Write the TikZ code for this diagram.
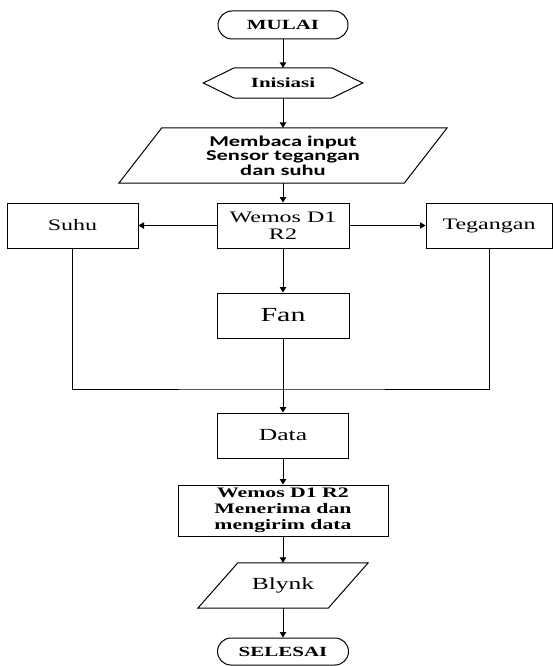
\documentclass[tikz,border=0pt]{standalone}
\usepackage{fontspec}
\setmainfont{Liberation Serif}[FakeStretch=1.5]
\newfontfamily\calib{Carlito}[FakeStretch=1.5]
\usetikzlibrary{arrows.meta,shapes.misc,calc}
\begin{document}
\begin{tikzpicture}[x=1pt,y=-1pt,
  shp/.style={line width=1pt},
  box/.style={draw, shp, minimum width=132pt, minimum height=45pt, inner sep=0pt, align=center, font=\fontsize{16}{16.5}\selectfont},
  plain/.style={inner sep=0pt, align=center},
  term/.style={draw, shp, rounded rectangle, minimum width=130pt, minimum height=28pt, inner sep=0pt, font=\fontsize{14}{15}\selectfont\bfseries},
  conn/.style={line width=1pt, -{Triangle[length=5.5pt,width=6.5pt]}},
  line/.style={line width=1pt}]
\useasboundingbox (0,0) rectangle (553,666);
\fill[white] (0,0) rectangle (553,666);

\node[term] (mulai) at (283,25) {MULAI};

\node[plain, minimum width=97pt, minimum height=30pt, font=\fontsize{14}{15}\selectfont\bfseries] (ini) at (283,83) {Inisiasi};
\draw[shp] ($(ini.west)+(-31,0)$) -- (ini.north west) -- (ini.north east) -- ($(ini.east)+(31,0)$) -- (ini.south east) -- (ini.south west) -- cycle;

\node[plain, minimum width=285pt, minimum height=55pt, font=\calib\fontsize{15}{14.5}\selectfont\bfseries] (baca) at (283,155.5) {Membaca input\\Sensor tegangan\\dan suhu};
\draw[shp] ($(baca.south west)+(-21.5,0)$) -- ($(baca.north west)+(21.5,0)$) -- ($(baca.north east)+(21.5,0)$) -- ($(baca.south east)+(-21.5,0)$) -- cycle;

\node[box] (w1) at (283,225.5) {Wemos D1\\R2};
\node[box, minimum width=131pt] (suhu) at (72.5,225.5) {Suhu};
\node[box, minimum width=126pt] (teg) at (489,225.5) {Tegangan};
\node[box, font=\fontsize{20}{21}\selectfont] (fan) at (283,315.5) {Fan};
\coordinate (j) at (283,389);
\node[box, minimum width=131pt, font=\fontsize{17}{18}\selectfont] (data) at (283,435.5) {Data};
\node[box, minimum width=210pt, minimum height=51pt, font=\fontsize{14.5}{16}\selectfont\bfseries] (w2) at (283,510.5) {Wemos D1 R2\\Menerima dan\\mengirim data};

\node[plain, minimum width=130pt, minimum height=45pt, font=\fontsize{17}{18}\selectfont] (blynk) at (283,585.5) {Blynk};
\draw[shp] ($(blynk.south west)+(-20,0)$) -- ($(blynk.north west)+(20,0)$) -- ($(blynk.north east)+(20,0)$) -- ($(blynk.south east)+(-20,0)$) -- cycle;

\node[term, minimum width=131pt, minimum height=27pt] (selesai) at (283,651.5) {SELESAI};

\draw[conn] (mulai.south) -- (ini.north);
\draw[conn] (ini.south) -- (baca.north);
\draw[conn] (baca.south) -- (w1.north);
\draw[conn] (w1.west) -- (suhu.east);
\draw[conn] (w1.east) -- (teg.west);
\draw[conn] (w1.south) -- (fan.north);
\draw[line] (suhu.south) |- (j) -| (teg.south);
\draw[conn] (fan.south) -- (data.north);
\draw[conn] (data.south) -- (w2.north);
\draw[conn] (w2.south) -- (blynk.north);
\draw[conn] (blynk.south) -- (selesai.north);
\end{tikzpicture}
\end{document}
